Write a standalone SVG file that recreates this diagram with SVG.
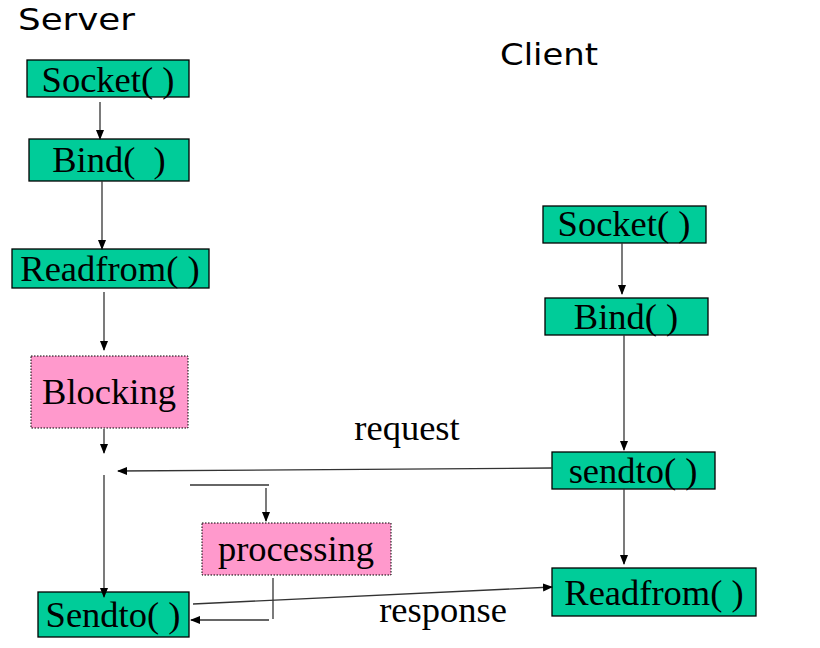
<svg xmlns="http://www.w3.org/2000/svg" width="820" height="648" viewBox="0 0 820 648">
<style>
.g{fill:#00CC99;stroke:#000;stroke-width:1.3}
.p{fill:#FF99CC;stroke:#000;stroke-width:1;stroke-dasharray:1.5 1.5}
.t{font-family:"Liberation Serif","Times New Roman",serif;font-size:36.5px;fill:#000;text-anchor:middle;white-space:pre}
.h{font-family:"Comic Sans MS","DejaVu Sans",sans-serif;font-size:30px;fill:#000}
.c{fill:none;stroke:#333;stroke-width:1.3}
</style>
<defs>
<marker id="a" markerWidth="10" markerHeight="10" refX="9" refY="4" orient="auto" markerUnits="userSpaceOnUse">
<path d="M0,0 L10,4 L0,8 Z" fill="#000"/>
</marker>
</defs>
<rect width="820" height="648" fill="#fff"/>
<text class="h" x="18" y="30" textLength="117" lengthAdjust="spacingAndGlyphs">Server</text>
<text class="h" x="500" y="65" textLength="98" lengthAdjust="spacingAndGlyphs">Client</text>

<g id="s-socket"><rect class="g" x="27" y="60" width="162" height="37"/><text class="t" x="108" y="92">Socket( )</text></g>
<g id="s-bind"><rect class="g" x="29" y="139" width="160" height="42"/><text class="t" x="109" y="172" xml:space="preserve">Bind(  )</text></g>
<g id="s-readfrom"><rect class="g" x="12" y="249" width="197" height="39"/><text class="t" x="110" y="281">Readfrom( )</text></g>
<g id="blocking"><rect class="p" x="31" y="356" width="157" height="72"/><text class="t" x="109" y="404">Blocking</text></g>
<g id="processing"><rect class="p" x="202" y="523" width="189" height="52"/><text class="t" x="296" y="561">processing</text></g>
<g id="s-sendto"><rect class="g" x="38" y="592" width="151" height="45"/><text class="t" x="113" y="627">Sendto( )</text></g>

<g id="c-socket"><rect class="g" x="543" y="206" width="163" height="37"/><text class="t" x="624" y="236">Socket( )</text></g>
<g id="c-bind"><rect class="g" x="545" y="298" width="163" height="37"/><text class="t" x="626" y="329">Bind( )</text></g>
<g id="c-sendto"><rect class="g" x="552" y="452" width="163" height="37"/><text class="t" x="633" y="483">sendto( )</text></g>
<g id="c-readfrom"><rect class="g" x="552" y="568" width="204" height="48"/><text class="t" x="654" y="605">Readfrom( )</text></g>

<g id="connectors">
<line class="c" x1="100" y1="102" x2="100" y2="139" marker-end="url(#a)"/>
<line class="c" x1="102" y1="181" x2="102" y2="249" marker-end="url(#a)"/>
<line class="c" x1="104" y1="292" x2="104" y2="350" marker-end="url(#a)"/>
<line class="c" x1="104" y1="429" x2="104" y2="453" marker-end="url(#a)"/>
<line class="c" x1="104" y1="475" x2="104" y2="597" marker-end="url(#a)"/>
<line class="c" x1="552" y1="468" x2="118" y2="471" marker-end="url(#a)"/>
<polyline class="c" points="190,485 269,485"/>
<line class="c" x1="266" y1="488" x2="266" y2="521" marker-end="url(#a)"/>
<line class="c" x1="273" y1="578" x2="273" y2="619"/>
<line class="c" x1="269" y1="620" x2="191" y2="620" marker-end="url(#a)"/>
<line class="c" x1="193" y1="604" x2="552" y2="587" marker-end="url(#a)"/>
<line class="c" x1="622" y1="243" x2="622" y2="294" marker-end="url(#a)"/>
<line class="c" x1="624" y1="335" x2="624" y2="450" marker-end="url(#a)"/>
<line class="c" x1="624" y1="489" x2="624" y2="564" marker-end="url(#a)"/>
<text class="t" x="407" y="440">request</text>
<text class="t" x="443" y="622">response</text>
</g>
</svg>
